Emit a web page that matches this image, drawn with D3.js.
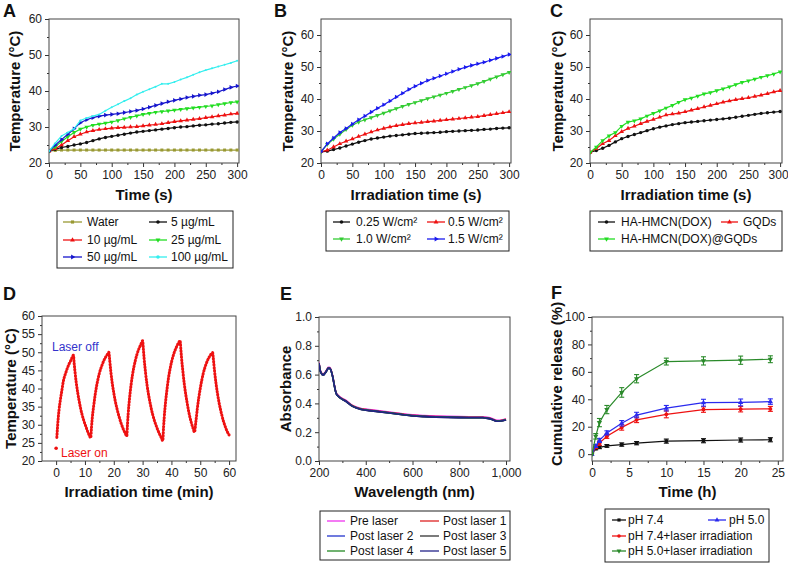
<!DOCTYPE html>
<html><head><meta charset="utf-8">
<script src="https://cdn.jsdelivr.net/npm/d3@7"></script>
<style>body{margin:0;background:#fff}svg{display:block;font-family:"Liberation Sans",Arial,sans-serif}</style>
</head><body><svg id="c" width="788" height="563"></svg>
<script>
// ---------------- DATA ----------------
const timeS = [0,10,20,30,40,50,60,70,80,90,100,110,120,130,140,150,160,170,180,190,200,210,220,230,240,250,260,270,280,290,300];
// Panel A (concentration)
const waterA = [23.3,23.5,23.6,23.6,23.6,23.6,23.6,23.6,23.6,23.6,23.6,23.6,23.6,23.6,23.6,23.6,23.6,23.6,23.6,23.6,23.6,23.6,23.6,23.6,23.6,23.6,23.6,23.6,23.6,23.6,23.6];
const c5A = [23.3,23.8,24.3,24.6,25.0,25.3,25.7,26.2,26.7,27.1,27.4,27.7,28.0,28.3,28.6,28.8,29.0,29.2,29.4,29.6,29.8,30.0,30.1,30.3,30.5,30.6,30.8,30.9,31.1,31.3,31.4];
const c10A = [23.3,24.0,25.0,26.2,27.3,28.0,28.6,29.0,29.3,29.5,29.7,29.8,29.9,30.0,30.1,30.3,30.5,30.7,30.9,31.2,31.5,31.7,31.9,32.1,32.3,32.6,32.8,33.1,33.3,33.6,33.8];
const c25A = [23.3,24.5,26.0,27.3,28.5,29.4,30.0,30.5,30.8,31.1,31.4,31.8,32.3,32.7,33.1,33.5,33.8,34.1,34.3,34.5,34.7,34.9,35.1,35.3,35.5,35.7,35.9,36.2,36.5,36.8,37.0];
const c50A = [23.3,25.0,26.5,28.0,29.5,31.2,32.0,32.6,33.0,33.3,33.5,33.7,34.0,34.3,34.6,35.0,35.5,36.0,36.5,37.0,37.4,37.8,38.2,38.5,38.8,39.0,39.4,39.8,40.4,41.0,41.4];
const c100A = [23.3,25.5,27.5,28.5,29.5,31.8,32.5,33.0,33.5,34.5,35.5,36.3,37.2,38.0,39.0,39.8,40.5,41.2,42.0,42.0,42.5,43.2,43.8,44.5,45.2,45.8,46.3,46.8,47.3,47.8,48.4];
// Panel B (power density)
const p025B = [23.5,23.7,24.2,24.7,25.3,25.9,26.5,27.0,27.5,27.8,28.1,28.4,28.6,28.8,29.0,29.2,29.3,29.4,29.5,29.6,29.8,29.9,30.0,30.1,30.2,30.3,30.5,30.6,30.8,30.9,31.0];
const p05B = [23.5,24.0,25.0,26.0,26.8,27.5,28.3,29.0,29.7,30.3,30.8,31.3,31.7,32.0,32.3,32.5,32.7,32.9,33.1,33.3,33.5,33.7,33.9,34.1,34.3,34.5,34.8,35.1,35.4,35.7,36.0];
const p10B = [23.5,25.8,27.5,29.0,30.5,31.8,32.8,33.5,34.2,34.9,35.6,36.3,37.0,37.7,38.3,38.9,39.5,40.1,40.7,41.2,41.8,42.4,43.0,43.6,44.2,44.8,45.5,46.2,46.9,47.6,48.3];
const p15B = [23.5,26.0,27.8,29.5,30.8,32.2,33.5,34.7,35.9,37.1,38.2,39.4,40.6,41.8,43.0,44.0,44.9,45.8,46.5,47.2,47.9,48.6,49.3,49.9,50.5,51.0,51.5,52.1,52.7,53.3,53.9];
// Panel C (materials)
const hmcnC = [23.3,23.9,24.6,25.5,26.6,27.6,28.3,28.9,29.5,30.1,30.7,31.2,31.6,32.0,32.3,32.6,32.8,33.0,33.2,33.4,33.6,33.8,34.0,34.3,34.6,34.9,35.2,35.5,35.7,35.9,36.1];
const gqdC = [23.3,24.5,26.0,27.0,28.5,29.8,30.8,31.5,32.3,33.0,33.6,34.3,35.0,35.3,35.6,36.0,36.5,37.0,37.5,38.0,38.5,39.0,39.4,39.8,40.1,40.4,40.8,41.2,41.7,42.2,42.6];
const hmcnGqdC = [23.3,25.0,27.0,28.5,29.5,31.5,32.8,33.2,33.8,34.7,35.5,36.3,37.2,38.0,39.0,39.8,40.3,40.9,41.6,42.0,42.6,43.2,43.8,44.5,45.2,45.7,46.2,46.8,47.3,47.8,48.5];
// Panel D (laser on/off cycles)
const timeD = [0,0.25,0.5,0.75,1,1.5,2,2.5,3,3.5,4,4.5,5,5.5,6,
 6.25,6.5,7,7.5,8,8.5,9,9.5,10,10.5,11,11.5,12,
 12.25,12.5,13,13.5,14,14.5,15,15.5,16,16.5,17,17.5,18,18.3,
 18.5,19,19.5,20,20.5,21,21.5,22,22.5,23,23.5,24,24.5,
 24.75,25,25.5,26,26.5,27,27.5,28,28.5,29,29.5,30,
 30.25,30.5,31,31.5,32,32.5,33,33.5,34,34.5,35,35.5,36,36.5,37,
 37.25,37.5,38,38.5,39,39.5,40,40.5,41,41.5,42,42.5,43,
 43.25,43.5,44,44.5,45,45.5,46,46.5,47,47.5,48,
 48.5,49,49.5,50,50.5,51,51.5,52,52.5,53,53.5,54,54.3,
 54.5,55,55.5,56,56.5,57,57.5,58,58.5,59,59.5,60];
const tempD = [23.5,26.5,29.5,32,34,37,39.5,42,43.5,44.7,45.8,46.8,47.6,48.5,49.2,
 47,45,41.5,38.8,36.5,34.5,32.8,31.4,30.2,29.1,28,27.1,26.4,
 29,31.5,35,38,40.5,42.5,44.2,45.5,46.6,47.6,48.4,49.1,49.7,50.0,
 48.5,44.5,41.3,38.8,36.6,34.8,33.2,31.8,30.5,29.4,28.4,27.6,26.9,
 30,33,37.5,41,43.8,46,47.8,49.3,50.5,51.5,52.4,53.2,
 51,48.5,44.5,41.2,38.6,36.4,34.5,32.8,31.4,30.2,29.1,28.1,27.2,26.4,25.6,
 29,32,36.5,40,43,45.3,47.2,48.7,50,51,51.9,52.6,53.2,
 51,48.5,44.5,41,38.2,35.8,33.6,31.8,30.3,29,28.0,
 31,34.5,37.5,40,42.2,44,45.5,46.7,47.7,48.5,49.2,49.7,49.9,
 48.5,44.5,41.2,38.5,36.2,34.3,32.6,31.1,29.9,28.8,27.9,27.2];
// Panel E (absorbance spectra)
const waveE = [200,205,210,215,220,225,230,235,240,245,250,255,260,265,270,275,280,290,300,320,340,360,380,400,450,500,550,600,650,700,750,800,850,900,920,940,950,960,970,980,990,1000];
const preE   = [0.685,0.635,0.615,0.605,0.605,0.615,0.625,0.640,0.650,0.650,0.640,0.615,0.580,0.535,0.495,0.470,0.460,0.445,0.435,0.415,0.390,0.375,0.365,0.360,0.350,0.340,0.330,0.320,0.315,0.312,0.310,0.308,0.307,0.307,0.303,0.295,0.288,0.283,0.283,0.285,0.288,0.292];
const post1E = [0.682,0.632,0.612,0.602,0.602,0.612,0.622,0.637,0.647,0.647,0.637,0.612,0.577,0.532,0.492,0.467,0.457,0.442,0.432,0.412,0.387,0.372,0.362,0.357,0.347,0.337,0.327,0.317,0.312,0.309,0.307,0.305,0.304,0.304,0.300,0.292,0.285,0.280,0.280,0.282,0.285,0.289];
const post2E = [0.680,0.630,0.610,0.600,0.600,0.610,0.620,0.635,0.645,0.645,0.635,0.610,0.575,0.530,0.490,0.465,0.455,0.440,0.430,0.410,0.385,0.370,0.360,0.355,0.345,0.335,0.325,0.315,0.310,0.307,0.305,0.303,0.302,0.302,0.298,0.290,0.283,0.278,0.278,0.280,0.283,0.287];
const post3E = [0.678,0.628,0.608,0.598,0.598,0.608,0.618,0.633,0.643,0.643,0.633,0.608,0.573,0.528,0.488,0.463,0.453,0.438,0.428,0.408,0.383,0.368,0.358,0.353,0.343,0.333,0.323,0.313,0.308,0.305,0.303,0.301,0.300,0.300,0.296,0.288,0.281,0.276,0.276,0.278,0.281,0.285];
const post4E = [0.679,0.629,0.609,0.599,0.599,0.609,0.619,0.634,0.644,0.644,0.634,0.609,0.574,0.529,0.489,0.464,0.454,0.439,0.429,0.409,0.384,0.369,0.359,0.354,0.344,0.334,0.324,0.314,0.309,0.306,0.304,0.302,0.301,0.301,0.297,0.289,0.282,0.277,0.277,0.279,0.282,0.286];
const post5E = [0.678,0.628,0.608,0.598,0.598,0.608,0.618,0.633,0.643,0.643,0.633,0.608,0.573,0.528,0.488,0.463,0.453,0.438,0.428,0.408,0.383,0.368,0.358,0.353,0.343,0.333,0.323,0.313,0.308,0.305,0.303,0.301,0.300,0.300,0.296,0.288,0.281,0.276,0.276,0.278,0.281,0.285];
// Panel F (cumulative release)
const timeF = [0,0.5,1,2,4,6,10,15,20,24];
const ph74F = [0,4,5,6,7,8,9.5,9.8,10.3,10.5];
const ph74Err = [0,0.8,1,1,1.2,1.2,1.5,1.5,1.5,1.5];
const ph50F = [0,6,10,15.5,22.5,28.5,33.5,37.5,37.7,38.3];
const ph50Err = [0,1,1.5,1.5,2,2,2,2.5,2.5,2];
const ph74LF = [0,5,8,13,19.5,25,29,32.5,32.8,33];
const ph74LErr = [0,1,1.5,1.5,2,2,2.5,2,2,1.8];
const ph50LF = [0,13,23,32.5,45,55,67.5,68,68.5,69.2];
const ph50LErr = [0,2,3,3,3.5,3,2.5,3,3,2.5];
// Tick labels
const tempTicks = [20,30,40,50,60];
const secTicks = [0,50,100,150,200,250,300];
const tempTicksD = [20,25,30,35,40,45,50,55,60];
const minTicksD = [0,10,20,30,40,50,60];
const absTicks = [0,0.2,0.4,0.6,0.8,1.0];
const waveTicks = [200,400,600,800,1000];
const relTicks = [0,20,40,60,80,100];
const hourTicks = [0,5,10,15,20,25];
// Legend labels
const legendA = ["Water","5 µg/mL","10 µg/mL","25 µg/mL","50 µg/mL","100 µg/mL"];
const legendB = ["0.25 W/cm²","0.5 W/cm²","1.0 W/cm²","1.5 W/cm²"];
const legendC = ["HA-HMCN(DOX)","GQDs","HA-HMCN(DOX)@GQDs"];
const legendE = ["Pre laser","Post laser 1","Post laser 2","Post laser 3","Post laser 4","Post laser 5"];
const legendF = ["pH 7.4","pH 5.0","pH 7.4+laser irradiation","pH 5.0+laser irradiation"];

// ---------------- DRAW ----------------
const svg = d3.select("#c");
const FONT_T = 12;

function panel(o){
  const x = d3.scaleLinear().domain(o.xd).range([o.x0,o.x1]);
  const y = d3.scaleLinear().domain(o.yd).range([o.y1,o.y0]);
  const g = svg.append("g");
  const styleAxis = sel => {
    sel.select(".domain").remove();
    sel.selectAll(".tick line").attr("stroke","#333");
    sel.selectAll(".tick text").attr("fill","#222").style("font-size",FONT_T+"px").style("font-family","Liberation Sans, Arial, sans-serif");
  };
  const xa = g.append("g").attr("transform",`translate(0,${o.y1})`)
    .call(d3.axisBottom(x).tickValues(o.xt).tickSize(4).tickPadding(3).tickFormat(o.xf||d3.format("d"))).call(styleAxis);
  if(o.lastDx) xa.selectAll(".tick text").filter((d,i,n)=>i===n.length-1).attr("dx",o.lastDx);
  g.append("g").attr("transform",`translate(${o.x0},0)`)
    .call(d3.axisLeft(y).tickValues(o.yt).tickSize(4).tickPadding(3).tickFormat(o.yf||d3.format("d"))).call(styleAxis);
  if(o.xm) g.append("g").attr("transform",`translate(0,${o.y1})`)
    .call(d3.axisBottom(x).tickValues(o.xm).tickSize(2).tickFormat("")).call(styleAxis);
  if(o.ym) g.append("g").attr("transform",`translate(${o.x0},0)`)
    .call(d3.axisLeft(y).tickValues(o.ym).tickSize(2).tickFormat("")).call(styleAxis);
  g.append("rect").attr("x",o.x0).attr("y",o.y0).attr("width",o.x1-o.x0).attr("height",o.y1-o.y0)
    .attr("fill","none").attr("stroke","#444").attr("stroke-width",1);
  g.append("text").attr("x",(o.x0+o.x1)/2).attr("y",o.xty).attr("text-anchor","middle")
    .style("font-size","15px").style("font-weight","bold").attr("fill","#111").text(o.xtitle);
  g.append("text").attr("transform",`translate(${o.ytx},${o.yty||(o.y0+o.y1)/2}) rotate(-90)`).attr("text-anchor","middle")
    .attr("dominant-baseline","central")
    .style("font-size","15px").style("font-weight","bold").attr("fill","#111").text(o.ytitle);
  g.append("text").attr("x",o.lx).attr("y",o.ly).style("font-size","18px").style("font-weight","bold").attr("fill","#111").text(o.letter);
  const clipId = "clip"+o.letter;
  svg.append("clipPath").attr("id",clipId).append("rect").attr("x",o.x0).attr("y",o.y0).attr("width",o.x1-o.x0).attr("height",o.y1-o.y0);
  const plot = g.append("g").attr("clip-path",`url(#${clipId})`);
  return {x,y,g:plot};
}

function symPath(type,size){
  const m = {circle:d3.symbolCircle,square:d3.symbolSquare,triangle:d3.symbolTriangle,diamond:d3.symbolDiamond,star:d3.symbolStar,cross:d3.symbolCross,wye:d3.symbolWye};
  return d3.symbol().type(m[type]||d3.symbolCircle).size(size)();
}
function series(p,xs,ys,color,sym,opts={}){
  const pts = xs.map((v,i)=>[v,ys[i]]);
  const line = d3.line().x(d=>p.x(d[0])).y(d=>p.y(d[1])).curve(opts.curve||d3.curveLinear);
  p.g.append("path").datum(pts).attr("d",line).attr("fill","none").attr("stroke",color).attr("stroke-width",opts.sw||1.2);
  if(sym){
    p.g.selectAll(null).data(pts).join("path")
      .attr("transform",d=>`translate(${p.x(d[0])},${p.y(d[1])})${opts.rot?` rotate(${opts.rot})`:""}`)
      .attr("d",symPath(sym,opts.ss||10)).attr("fill",color);
  }
}
function legend(box,items){
  const g = svg.append("g");
  g.append("rect").attr("x",box.x).attr("y",box.y).attr("width",box.w).attr("height",box.h)
    .attr("fill","#fff").attr("stroke","#222").attr("stroke-width",1);
  items.forEach(it=>{
    g.append("line").attr("x1",it.l1).attr("x2",it.l2).attr("y1",it.y).attr("y2",it.y).attr("stroke",it.color).attr("stroke-width",1.3);
    if(it.sym) g.append("path").attr("transform",`translate(${(it.l1+it.l2)/2},${it.y})${it.rot?` rotate(${it.rot})`:""}`).attr("d",symPath(it.sym,10)).attr("fill",it.color);
    g.append("text").attr("x",it.tx).attr("y",it.y).attr("dominant-baseline","central")
      .style("font-size","12px").attr("fill","#111").text(it.label);
  });
}

const col = {black:"#111",red:"#ee1111",green:"#22dd22",blue:"#1515cc",cyan:"#33eeee",olive:"#999933",
  Bgreen:"#33cc33",Bblue:"#1a1aee",Fgreen:"#2a8a2a",Fblue:"#2a2aee"};

// ----- Panel A -----
const pA = panel({x0:49,x1:239,y0:19,y1:163,xd:[0,303],yd:[20,60],xt:secTicks,yt:tempTicks,
  xm:[25,75,125,175,225,275],ym:[25,35,45,55],xtitle:"Time (s)",xty:200,ytitle:"Temperature (°C)",ytx:14,letter:"A",lx:3,ly:17});
series(pA,timeS,waterA,col.olive,"square",{ss:9});
series(pA,timeS,c5A,col.black,"circle",{ss:9});
series(pA,timeS,c10A,col.red,"triangle",{ss:9});
series(pA,timeS,c25A,col.green,"triangle",{ss:9,rot:180});
series(pA,timeS,c50A,col.blue,"triangle",{ss:9,rot:90});
series(pA,timeS,c100A,col.cyan,"circle",{ss:3});
const rA=[222,240,257];
legend({x:57,y:211,w:176,h:57},[
  {label:legendA[0],color:col.olive,sym:"square",l1:63,l2:82,tx:87,y:rA[0]},
  {label:legendA[1],color:col.black,sym:"circle",l1:149,l2:167,tx:171,y:rA[0]},
  {label:legendA[2],color:col.red,sym:"triangle",l1:63,l2:82,tx:87,y:rA[1]},
  {label:legendA[3],color:col.green,sym:"triangle",rot:180,l1:149,l2:167,tx:171,y:rA[1]},
  {label:legendA[4],color:col.blue,sym:"triangle",rot:90,l1:63,l2:82,tx:87,y:rA[2]},
  {label:legendA[5],color:col.cyan,sym:"circle",l1:149,l2:167,tx:171,y:rA[2]}
]);

// ----- Panel B -----
const pB = panel({x0:321,x1:511,y0:19,y1:163,xd:[0,303],yd:[20,65],xt:secTicks,yt:tempTicks,
  xm:[25,75,125,175,225,275],ym:[25,35,45,55],xtitle:"Irradiation time (s)",xty:200,ytitle:"Temperature (°C)",ytx:287,letter:"B",lx:274,ly:17});
series(pB,timeS,p025B,col.black,"circle",{ss:9});
series(pB,timeS,p05B,col.red,"triangle",{ss:9});
series(pB,timeS,p10B,col.Bgreen,"triangle",{ss:9,rot:180});
series(pB,timeS,p15B,col.Bblue,"triangle",{ss:9,rot:90});
legend({x:326,y:211,w:183,h:40},[
  {label:legendB[0],color:col.black,sym:"circle",l1:333,l2:350,tx:356,y:222},
  {label:legendB[1],color:col.red,sym:"triangle",l1:427,l2:445,tx:448,y:222},
  {label:legendB[2],color:col.Bgreen,sym:"triangle",rot:180,l1:333,l2:350,tx:356,y:239},
  {label:legendB[3],color:col.Bblue,sym:"triangle",rot:90,l1:427,l2:445,tx:448,y:239}
]);

// ----- Panel C -----
const pC = panel({x0:590,x1:782,y0:19,y1:163,xd:[0,303],yd:[20,65],xt:secTicks,yt:tempTicks,lastDx:-2,
  xm:[25,75,125,175,225,275],ym:[25,35,45,55],xtitle:"Irradiation time (s)",xty:200,ytitle:"Temperature (°C)",ytx:557,letter:"C",lx:550,ly:17});
series(pC,timeS,hmcnC,col.black,"circle",{ss:9});
series(pC,timeS,gqdC,col.red,"triangle",{ss:9});
series(pC,timeS,hmcnGqdC,col.green,"triangle",{ss:9,rot:180});
legend({x:590,y:211,w:192,h:40},[
  {label:legendC[0],color:col.black,sym:"circle",l1:598,l2:615,tx:621,y:222},
  {label:legendC[1],color:col.red,sym:"triangle",l1:721,l2:738,tx:743,y:222},
  {label:legendC[2],color:col.green,sym:"triangle",rot:180,l1:598,l2:615,tx:621,y:239}
]);

// ----- Panel D -----
const pD = panel({x0:42,x1:236,y0:316,y1:461,xd:[-4.9,62.4],yd:[20,60],xt:minTicksD,yt:tempTicksD,
  xm:[5,15,25,35,45,55],ym:[22.5,27.5,32.5,37.5,42.5,47.5,52.5,57.5],xtitle:"Irradiation time (min)",xty:497,ytitle:"Temperature (°C)",ytx:10,letter:"D",lx:3,ly:300});
{
  const pts = timeD.map((t,i)=>[t,tempD[i]]);
  const line = d3.line().x(d=>pD.x(d[0])).y(d=>pD.y(d[1])).curve(d3.curveMonotoneX);
  pD.g.append("path").datum(pts.slice(1)).attr("d",line).attr("fill","none").attr("stroke","#ee1111")
    .attr("stroke-width",3).attr("stroke-linecap","round").attr("stroke-dasharray","0.6 2.4");
  pD.g.append("circle").attr("cx",pD.x(pts[0][0])).attr("cy",pD.y(pts[0][1])).attr("r",1.8).attr("fill","#ee1111");
}
svg.append("text").attr("x",52).attr("y",351).style("font-size","12px").attr("fill","#3333cc").text("Laser off");
svg.append("text").attr("x",61).attr("y",457).style("font-size","12px").attr("fill","#ee1111").text("Laser on");

// ----- Panel E -----
const pE = panel({x0:319,x1:510,y0:317,y1:461,xd:[200,1017],yd:[0,1],xt:waveTicks,yt:absTicks,
  xf:d3.format(","),yf:d3.format(".1f"),xm:[300,500,700,900],ym:[0.1,0.3,0.5,0.7,0.9],
  xtitle:"Wavelength (nm)",xty:497,ytitle:"Absorbance",ytx:285,letter:"E",lx:280,ly:300});
const eCols = ["#ee33ee","#dd2222","#2233cc","#333333","#228822","#222288"];
[preE,post1E,post2E,post3E,post4E,post5E].forEach((s,i)=>series(pE,waveE,s,eCols[i],null,{sw:1.6,curve:d3.curveMonotoneX}));
legend({x:320,y:511,w:190,h:49},[
  {label:legendE[0],color:eCols[0],l1:327,l2:345,tx:350,y:521},
  {label:legendE[1],color:eCols[1],l1:420,l2:439,tx:443,y:521},
  {label:legendE[2],color:eCols[2],l1:327,l2:345,tx:350,y:536},
  {label:legendE[3],color:eCols[3],l1:420,l2:439,tx:443,y:536},
  {label:legendE[4],color:eCols[4],l1:327,l2:345,tx:350,y:551},
  {label:legendE[5],color:eCols[5],l1:420,l2:439,tx:443,y:551}
]);

// ----- Panel F -----
const pF = panel({x0:592,x1:783,y0:317,y1:461,xd:[0,25.7],yd:[-5,100],xt:hourTicks,yt:relTicks,
  xm:[2.5,7.5,12.5,17.5,22.5],ym:[10,30,50,70,90],
  xtitle:"Time (h)",xty:497,ytitle:"Cumulative release (%)",ytx:556,yty:384,letter:"F",lx:551,ly:299});
function errSeries(p,xs,ys,es,color,sym,rot){
  xs.forEach((t,i)=>{
    if(!es[i]) return;
    const cx=p.x(t), a=p.y(ys[i]-es[i]), b=p.y(ys[i]+es[i]);
    p.g.append("line").attr("x1",cx).attr("x2",cx).attr("y1",a).attr("y2",b).attr("stroke",color).attr("stroke-width",1.1);
    p.g.append("line").attr("x1",cx-2.5).attr("x2",cx+2.5).attr("y1",a).attr("y2",a).attr("stroke",color).attr("stroke-width",1.1);
    p.g.append("line").attr("x1",cx-2.5).attr("x2",cx+2.5).attr("y1",b).attr("y2",b).attr("stroke",color).attr("stroke-width",1.1);
  });
  series(p,xs,ys,color,sym,{ss:12,rot});
}
errSeries(pF,timeF,ph74F,ph74Err,col.black,"square");
errSeries(pF,timeF,ph74LF,ph74LErr,col.red,"circle");
errSeries(pF,timeF,ph50F,ph50Err,col.Fblue,"triangle");
errSeries(pF,timeF,ph50LF,ph50LErr,col.Fgreen,"triangle",180);
legend({x:605,y:509,w:164,h:53},[
  {label:legendF[0],color:col.black,sym:"square",l1:612,l2:626,tx:628,y:520},
  {label:legendF[1],color:col.Fblue,sym:"triangle",l1:708,l2:726,tx:729,y:520},
  {label:legendF[2],color:col.red,sym:"circle",l1:612,l2:626,tx:628,y:536},
  {label:legendF[3],color:col.Fgreen,sym:"triangle",rot:180,l1:612,l2:626,tx:628,y:551}
]);
</script></body></html>
